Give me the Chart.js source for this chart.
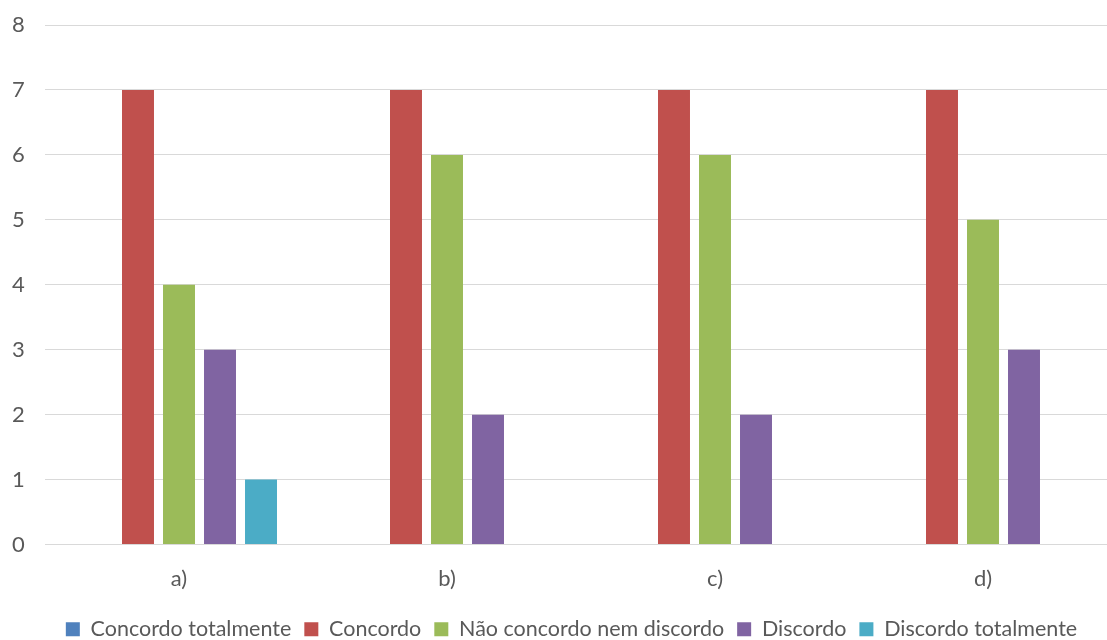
<!DOCTYPE html>
<html>
<head>
<meta charset="utf-8">
<script src="https://cdn.jsdelivr.net/npm/chart.js@4/dist/chart.umd.min.js"></script>
<style>
  html, body { margin: 0; padding: 0; background: #fff; overflow: hidden; }
  #wrap { position: relative; width: 1143px; height: 640px; }
</style>
</head>
<body>
<div id="wrap"><canvas id="chart"></canvas></div>
<script>
// Response counts per statement
const categories = ['a)', 'b)', 'c)', 'd)'];
const concordoTotalmente = [0, 0, 0, 0];
const concordo = [7, 7, 7, 7];
const naoConcordoNemDiscordo = [4, 6, 6, 5];
const discordo = [3, 2, 2, 3];
const discordoTotalmente = [1, 0, 0, 0];
const yTicks = [0, 1, 2, 3, 4, 5, 6, 7, 8];

const textColor = '#595959';
const fontFamily = "Lato, 'Open Sans', sans-serif";
const fontSize = 22;
const legendFontSize = 21.5;

const series = [
  { label: 'Concordo totalmente', data: concordoTotalmente, color: '#4F81BD' },
  { label: 'Concordo', data: concordo, color: '#C0504D' },
  { label: 'Não concordo nem discordo', data: naoConcordoNemDiscordo, color: '#9BBB59' },
  { label: 'Discordo', data: discordo, color: '#8064A2' },
  { label: 'Discordo totalmente', data: discordoTotalmente, color: '#4BACC6' }
];

new Chart(document.getElementById('chart'), {
  type: 'bar',
  data: {
    labels: categories,
    datasets: series.map(s => ({
      label: s.label,
      data: s.data,
      backgroundColor: s.color,
      borderWidth: 0,
      categoryPercentage: 0.765,
      barPercentage: 0.78
    }))
  },
  options: {
    responsive: true,
    maintainAspectRatio: false,
    animation: false,
    layout: { padding: { top: 25, right: 26, left: 26, bottom: -10 } },
    plugins: {
      tooltip: { enabled: false },
      legend: {
        position: 'bottom',
        labels: {
          boxWidth: 14,
          boxHeight: 14,
          padding: 13,
          color: textColor,
          font: { family: fontFamily, size: legendFontSize }
        }
      }
    },
    scales: {
      x: {
        grid: { display: false },
        border: { display: false },
        ticks: {
          color: textColor,
          padding: 13,
          font: { family: fontFamily, size: fontSize }
        },
        afterFit: s => { s.height = 61; }
      },
      y: {
        min: 0,
        max: 8,
        afterBuildTicks: s => { s.ticks = yTicks.map(v => ({ value: v })); },
        grid: { color: '#D9D9D9', lineWidth: 1, drawTicks: false },
        border: { display: false },
        ticks: {
          color: textColor,
          mirror: true,
          crossAlign: 'near',
          padding: -33,
          font: { family: fontFamily, size: fontSize }
        },
        afterFit: s => {
          s.width = 19;
          s.paddingTop = 0;
          s.paddingBottom = 0;
        }
      }
    }
  }
});
</script>
</body>
</html>
